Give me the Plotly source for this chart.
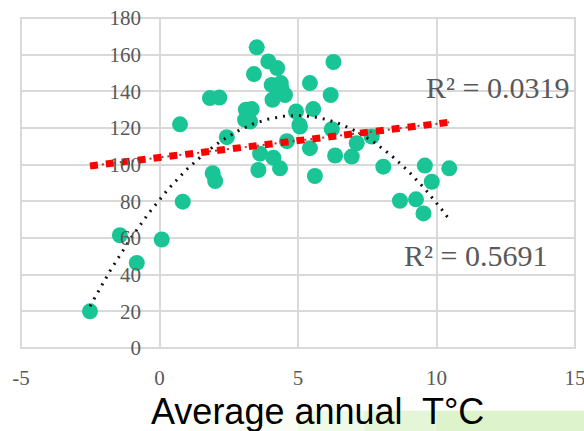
import numpy as np
import plotly.graph_objects as go

# Average annual temperature (°C) and response values
temp = [-2.51, -1.43, -0.82, 0.08, 0.84, 1.92, 2.01, 0.74, 1.82, 2.16,
        3.51, 3.93, 4.25, 3.41, 4.05, 4.38, 4.53, 4.08, 4.40, 5.43,
        3.12, 3.33, 3.09, 3.27, 2.43, 4.93, 5.05, 5.55, 4.60, 3.63,
        3.57, 4.11, 4.35, 5.43, 5.61, 6.34, 6.94, 6.28, 6.18, 6.22,
        7.12, 7.66, 8.08, 9.58, 10.46, 9.83, 8.68, 9.26, 9.53, 5.07]
value = [20.0, 61.5, 46.4, 59.2, 79.8, 95.3, 91.1, 122.0, 136.3, 136.6,
         164.0, 156.3, 152.7, 149.4, 143.5, 144.5, 138.0, 135.4, 141.5, 144.5,
         130.0, 130.3, 124.5, 123.5, 115.0, 129.0, 121.7, 130.3, 112.8, 106.0,
         97.1, 103.8, 98.0, 109.0, 93.8, 105.0, 104.4, 156.0, 138.0, 119.3,
         111.7, 115.3, 98.9, 99.5, 98.0, 90.7, 80.3, 81.1, 73.4, 120.8]

# Trend line coefficients (highest power first)
linear_coef = [1.84, 103.9]
poly_coef = [-1.868, 18.5, 81.0]
r2_labels = ["R² = 0.0319", "R² = 0.5691"]

x_ticks = [-5, 0, 5, 10, 15]
y_ticks = [0, 20, 40, 60, 80, 100, 120, 140, 160, 180]

xs = np.linspace(min(temp), max(temp), 200)
lin_y = np.polyval(linear_coef, xs)
poly_y = np.polyval(poly_coef, xs)

fig = go.Figure()
fig.add_trace(go.Scatter(x=temp, y=value, mode="markers",
                         marker=dict(color="#19c595", size=16, line=dict(width=0)),
                         hoverinfo="skip"))
fig.add_trace(go.Scatter(x=xs, y=poly_y, mode="lines",
                         line=dict(color="#111111", width=3, dash="2px,6px"),
                         hoverinfo="skip"))
fig.add_trace(go.Scatter(x=xs, y=lin_y, mode="lines",
                         line=dict(color="#b03030", width=2, dash="2px,4px"),
                         hoverinfo="skip"))
fig.add_trace(go.Scatter(x=xs, y=lin_y, mode="lines",
                         line=dict(color="#ff0000", width=7, dash="8px,8px"),
                         hoverinfo="skip"))

grid = "#d9d9d9"
tickfont = dict(family="Liberation Serif, Times New Roman, serif", size=21, color="#595959")

fig.update_layout(
    width=584, height=431,
    margin=dict(l=21, r=9, t=18, b=83),
    paper_bgcolor="white", plot_bgcolor="white",
    showlegend=False,
    xaxis=dict(range=[-5, 15], tickvals=x_ticks, ticktext=[str(v) for v in x_ticks],
               showgrid=True, gridcolor=grid, gridwidth=2,
               zeroline=True, zerolinecolor=grid, zerolinewidth=2,
               showline=False, automargin=False, ticklabeloverflow="allow",
               ticks="", tickfont=tickfont, ticklabelstandoff=15),
    yaxis=dict(range=[0, 180], tickvals=y_ticks, ticktext=[str(v) for v in y_ticks],
               showgrid=True, gridcolor=grid, gridwidth=2,
               zeroline=False, showline=False, automargin=False,
               ticks="", tickfont=tickfont, ticklabelstandoff=18,
               anchor="free", position=0.249),
)

# plot-area border
fig.add_shape(type="rect", xref="paper", yref="paper", x0=0, x1=1, y0=0, y1=1,
              line=dict(color=grid, width=2), layer="below")

# green slide-background band at the bottom
for x0, a in [(0.3, 0.12), (0.5, 0.2), (0.62, 0.3), (0.75, 0.35)]:
    fig.add_shape(type="rect", xref="paper", yref="paper",
                  x0=x0, x1=1.02, y0=-0.19, y1=-0.26,
                  fillcolor=f"rgba(205,238,180,{a})", line=dict(width=0), layer="below")

r2font = dict(family="Liberation Serif, Times New Roman, serif", size=30, color="#595959")
fig.add_annotation(x=12.22, y=141.9, xref="x", yref="y", showarrow=False,
                   text=r2_labels[0], font=r2font)
fig.add_annotation(x=11.39, y=50.7, xref="x", yref="y", showarrow=False,
                   text=r2_labels[1], font=r2font)
fig.add_annotation(x=0.535, y=-0.125, xref="paper", yref="paper", showarrow=False,
                   xanchor="center", yanchor="top",
                   text="Average annual  T°C",
                   font=dict(family="Liberation Sans, Arial, sans-serif", size=36, color="black"))

fig.write_html("out.html", config={"displayModeBar": False},
               post_script="document.body.style.margin='0';document.body.style.overflow='hidden';")
